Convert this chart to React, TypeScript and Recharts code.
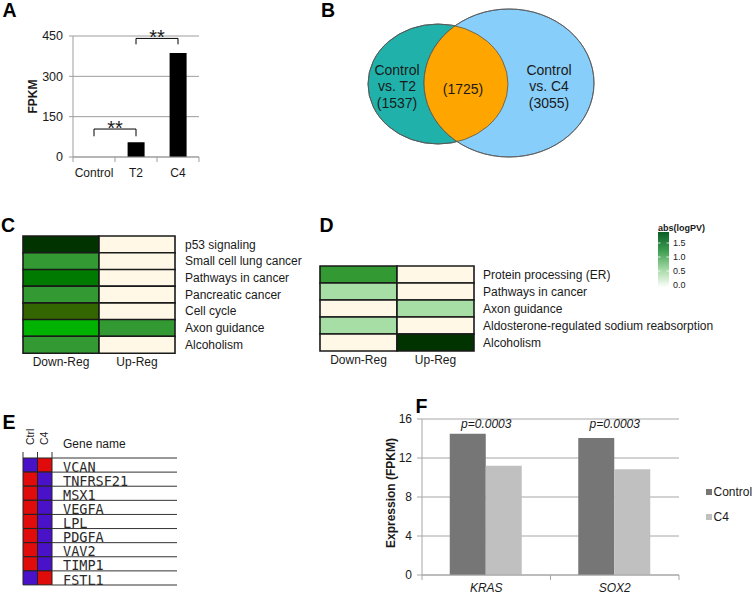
import React from 'react';
import {
  BarChart,
  Bar,
  XAxis,
  YAxis,
  CartesianGrid,
  Cell,
  ReferenceLine,
  ReferenceDot,
  ScatterChart,
  Scatter,
  Legend,
} from 'recharts';

const FONT = '"Liberation Sans", Arial, Helvetica, sans-serif';
const MONO = '"DejaVu Sans Mono", "Liberation Mono", monospace';
const INK = '#1a1a1a';
const GRAY = '#9d9d9d';

// ---------------- Panel A : FPKM bar chart ----------------
const aSamples = ['Control', 'T2', 'C4'];
const aFpkm = [0, 55, 387];
const aTicks = [0, 150, 300, 450];
const aSigFrom = ['Control', 'T2'];
const aSigTo = ['T2', 'C4'];
const aSigHigh = [104, 441];
const aSigLow = [77, 419];
const aSigText = ['**', '**'];

// ---------------- Panel B : Venn diagram ----------------
const vennSets = ['Control vs. T2', 'Control vs. C4'];
const vennUnique = [1537, 3055];
const vennShared = 1725;

// ---------------- Panel C : KEGG heatmap ----------------
const cPathways = [
  'p53 signaling',
  'Small cell lung cancer',
  'Pathways in cancer',
  'Pancreatic cancer',
  'Cell cycle',
  'Axon guidance',
  'Alcoholism',
];
const cDown = ['g5', 'g3', 'g4', 'g3', 'olive', 'bright', 'g3'];
const cUp = ['none', 'none', 'none', 'none', 'none', 'g3', 'none'];

// ---------------- Panel D : KEGG heatmap ----------------
const dPathways = [
  'Protein processing (ER)',
  'Pathways in cancer',
  'Axon guidance',
  'Aldosterone-regulated sodium reabsorption',
  'Alcoholism',
];
const dDown = ['g3', 'g1', 'none', 'g1', 'none'];
const dUp = ['none', 'none', 'g1', 'none', 'g5'];
const regColumns = ['Down-Reg', 'Up-Reg'];
const legendTitle = 'abs(logPV)';
const legendTicks = [0, 0.5, 1.0, 1.5];

// ---------------- Panel E : gene heatmap ----------------
const eSamples = ['Ctrl', 'C4'];
const eGenes = ['VCAN', 'TNFRSF21', 'MSX1', 'VEGFA', 'LPL', 'PDGFA', 'VAV2', 'TIMP1', 'FSTL1'];
const eCtrl = ['low', 'high', 'high', 'high', 'high', 'high', 'high', 'high', 'low'];
const eC4 = ['high', 'low', 'low', 'low', 'low', 'low', 'low', 'low', 'high'];
const eHeader = 'Gene name';

// ---------------- Panel F : expression bars ----------------
const fGenes = ['KRAS', 'SOX2'];
const fSeries = ['Control', 'C4'];
const fControl = [14.5, 14.05];
const fC4 = [11.2, 10.85];
const fPValues = ['p=0.0003', 'p=0.0003'];
const fTicks = [0, 4, 8, 12, 16];

// ---------------- styles ----------------
const heatPalette: Record<string, string> = {
  none: '#FFF8E7',
  g1: '#A6DEA6',
  g3: '#339933',
  g4: '#007A00',
  g5: '#003300',
  olive: '#336600',
  bright: '#00B300',
};
const expPalette: Record<string, string> = { high: '#E00B0B', low: '#4A12C8' };

// ---------------- tables ----------------
const aData = aSamples.map((sample, i) => ({ sample, fpkm: aFpkm[i] }));
const cData = cPathways.map((name, i) => ({ name, down: 1, up: 1, dKey: cDown[i], uKey: cUp[i] }));
const dData = dPathways.map((name, i) => ({ name, down: 1, up: 1, dKey: dDown[i], uKey: dUp[i] }));
const eData = eGenes.map((gene, i) => ({ gene, ctrl: 1, c4: 1, cKey: eCtrl[i], kKey: eC4[i] }));
const fData = fGenes.map((gene, i) => ({ gene, control: fControl[i], c4: fC4[i] }));

// ---------------- helpers ----------------
function BandTick(props: any) {
  const { x, y, payload, index, gap, total, italic, fontSize, stroke, fallbackHalf } = props;
  const half = (payload && payload.offset) || fallbackHalf;
  const axisY = y - gap;
  return (
    <g>
      <line x1={x - half} x2={x - half} y1={axisY} y2={axisY + 5} stroke={stroke} />
      {index === total - 1 ? (
        <line x1={x + half} x2={x + half} y1={axisY} y2={axisY + 5} stroke={stroke} />
      ) : null}
      <text
        x={x}
        y={y}
        dy="0.71em"
        textAnchor="middle"
        fontFamily={FONT}
        fontSize={fontSize}
        fontStyle={italic ? 'italic' : 'normal'}
        fill={INK}
      >
        {payload.value}
      </text>
    </g>
  );
}

function rotLabel(text: string, x: number, dy: number, size: number) {
  return (p: any) => {
    const vb = p.viewBox || { y: 0, height: 0 };
    const cy = vb.y + vb.height / 2 + dy;
    return (
      <text
        x={x}
        y={cy}
        transform={`rotate(-90 ${x} ${cy})`}
        textAnchor="middle"
        fontFamily={FONT}
        fontWeight="bold"
        fontSize={size}
        fill={INK}
      >
        {text}
      </text>
    );
  };
}

function starLabel(text: string) {
  return (p: any) => {
    const vb = p.viewBox;
    return (
      <text x={vb.x + vb.width / 2} y={vb.y + 6} textAnchor="middle" fontFamily={FONT} fontSize={20} fill={INK}>
        {text}
      </text>
    );
  };
}

function Letter({ ch, x, y }: { ch: string; x: number; y: number }) {
  return (
    <div
      style={{
        position: 'absolute',
        left: x,
        top: y,
        fontFamily: FONT,
        fontWeight: 'bold',
        fontSize: 19.5,
        lineHeight: '19.5px',
        color: '#000',
      }}
    >
      {ch}
    </div>
  );
}

// ---------------- Panel A ----------------
function PanelA() {
  return (
    <BarChart width={210} height={185} data={aData} margin={{ top: 36, right: 11, bottom: 0, left: 0 }} barCategoryGap="30%">
      <CartesianGrid vertical={false} stroke={GRAY} />
      <XAxis
        dataKey="sample"
        height={28}
        tickSize={0}
        tickMargin={11}
        tickLine={false}
        axisLine={{ stroke: GRAY }}
        interval={0}
        tick={(p: any) => <BandTick {...p} gap={11} total={aSamples.length} fallbackHalf={21} fontSize={12} stroke={GRAY} />}
      />
      <YAxis
        domain={[0, 450]}
        ticks={aTicks}
        interval={0}
        width={73}
        tickSize={4}
        tickMargin={6}
        axisLine={{ stroke: GRAY }}
        tickLine={{ stroke: GRAY }}
        tick={{ fontSize: 12.5, fill: INK, fontFamily: FONT }}
        label={rotLabel('FPKM', 37, 0, 12)}
      />
      <Bar dataKey="fpkm" fill="#000" isAnimationActive={false} />
      {aSigFrom.map((from, i) => {
        const to = aSigTo[i];
        const hi = aSigHigh[i];
        const lo = aSigLow[i];
        return [
          <ReferenceLine key={`l${i}`} segment={[{ x: from, y: lo }, { x: from, y: hi }]} stroke="#000" />,
          <ReferenceLine
            key={`h${i}`}
            segment={[{ x: from, y: hi }, { x: to, y: hi }]}
            stroke="#000"
            label={starLabel(aSigText[i])}
          />,
          <ReferenceLine key={`r${i}`} segment={[{ x: to, y: hi }, { x: to, y: lo }]} stroke="#000" />,
        ];
      })}
    </BarChart>
  );
}

// ---------------- Panel B ----------------
const VENN = {
  left: { cx: 138, cy: 84, rx: 70, ry: 60 },
  right: { cx: 209, cy: 83, rx: 85, ry: 74 },
  labels: [
    { x: 97, y: 91.25 },
    { x: 163, y: 94 },
    { x: 249, y: 91.25 },
  ],
};
const vennSetColors = ['#20B2AA', '#87CEFA'];
const vennShareColor = '#FFA500';

const vennEllipses = [
  { x: VENN.left.cx, y: VENN.left.cy, set: 0 },
  { x: VENN.right.cx, y: VENN.right.cy, set: 1 },
];
const vennLens = [{ x: VENN.right.cx, y: VENN.right.cy }];
const splitSet = (s: string) => s.split(' vs. ').map((t, k) => (k ? 'vs. ' + t : t));
const vennText = [
  { x: VENN.labels[0].x, y: VENN.labels[0].y, lines: [...splitSet(vennSets[0]), `(${vennUnique[0]})`] },
  { x: VENN.labels[1].x, y: VENN.labels[1].y, lines: [`(${vennShared})`] },
  { x: VENN.labels[2].x, y: VENN.labels[2].y, lines: [...splitSet(vennSets[1]), `(${vennUnique[1]})`] },
];

function PanelB() {
  const geo = [VENN.left, VENN.right];
  return (
    <ScatterChart width={320} height={180} margin={{ top: 0, right: 0, bottom: 0, left: 0 }}>
      <XAxis type="number" dataKey="x" domain={[0, 320]} hide />
      <YAxis type="number" dataKey="y" domain={[0, 180]} reversed hide />
      <Scatter
        data={vennEllipses}
        isAnimationActive={false}
        shape={(p: any) => {
          const g = geo[p.payload.set];
          return <ellipse cx={p.cx} cy={p.cy} rx={g.rx} ry={g.ry} fill={vennSetColors[p.payload.set]} stroke="#555" strokeWidth={0.8} />;
        }}
      />
      <Scatter
        data={vennLens}
        isAnimationActive={false}
        shape={(p: any) => {
          const lx = p.cx + (VENN.left.cx - VENN.right.cx);
          const ly = p.cy + (VENN.left.cy - VENN.right.cy);
          return (
            <g>
              <defs>
                <clipPath id="vennClipLeft">
                  <ellipse cx={lx} cy={ly} rx={VENN.left.rx} ry={VENN.left.ry} />
                </clipPath>
              </defs>
              <ellipse cx={p.cx} cy={p.cy} rx={VENN.right.rx} ry={VENN.right.ry} fill={vennShareColor} clipPath="url(#vennClipLeft)" />
              <ellipse cx={lx} cy={ly} rx={VENN.left.rx} ry={VENN.left.ry} fill="none" stroke="#555" strokeWidth={0.8} />
              <ellipse cx={p.cx} cy={p.cy} rx={VENN.right.rx} ry={VENN.right.ry} fill="none" stroke="#555" strokeWidth={0.8} />
            </g>
          );
        }}
      />
      <Scatter
        data={vennText}
        isAnimationActive={false}
        shape={(p: any) => {
          const lines: string[] = p.payload.lines;
          const start = p.cy - ((lines.length - 1) * 16.25) / 2;
          return (
            <g>
              {lines.map((t, k) => (
                <text key={k} x={p.cx} y={start + k * 16.25} textAnchor="middle" fontFamily={FONT} fontSize={14} fill={INK}>
                  {t}
                </text>
              ))}
            </g>
          );
        }}
      />
    </ScatterChart>
  );
}

// ---------------- Heatmaps C / D ----------------
function Heatmap({ data, width, height, margin, yWidth, xHeight, labelGap, legend }: any) {
  return (
    <BarChart layout="vertical" width={width} height={height} data={data} margin={margin} barCategoryGap={0} barGap={0}>
      <XAxis
        type="number"
        domain={[0, 2]}
        ticks={[0.5, 1.5]}
        interval={0}
        height={xHeight}
        tickSize={0}
        tickMargin={4}
        axisLine={false}
        tickLine={false}
        tickFormatter={(v: number) => regColumns[Math.floor(v)]}
        tick={{ fontSize: 12, fill: INK, fontFamily: FONT }}
      />
      <YAxis
        type="category"
        dataKey="name"
        orientation="right"
        width={yWidth}
        interval={0}
        tickSize={0}
        tickMargin={labelGap}
        axisLine={false}
        tickLine={false}
        tick={{ fontSize: 12, fill: INK, fontFamily: FONT, textAnchor: 'start' }}
      />
      <Bar dataKey="down" stackId="s" isAnimationActive={false} stroke={INK} strokeWidth={1.6}>
        {data.map((d: any, i: number) => (
          <Cell key={i} fill={heatPalette[d.dKey]} />
        ))}
      </Bar>
      <Bar dataKey="up" stackId="s" isAnimationActive={false} stroke={INK} strokeWidth={1.6}>
        {data.map((d: any, i: number) => (
          <Cell key={i} fill={heatPalette[d.uKey]} />
        ))}
      </Bar>
      {legend}
    </BarChart>
  );
}

const legendY = (v: number) => 65 - v * 28;

function GradientLegend() {
  return (
    <svg width={60} height={75} style={{ overflow: 'visible' }}>
      <defs>
        <linearGradient id="logpvGrad" x1="0" y1="0" x2="0" y2="1">
          <stop offset="0%" stopColor="#0b5e27" />
          <stop offset="35%" stopColor="#3f9f52" />
          <stop offset="68%" stopColor="#a5d9a5" />
          <stop offset="100%" stopColor="#fbfefa" />
        </linearGradient>
      </defs>
      <text x={3} y={11} fontFamily={FONT} fontWeight="bold" fontSize={9} fill={INK}>
        {legendTitle}
      </text>
      <rect x={3} y={12} width={11} height={55} fill="url(#logpvGrad)" />
      {legendTicks.map((v) => (
        <g key={v}>
          <line x1={3} x2={5.5} y1={legendY(v)} y2={legendY(v)} stroke="#fff" strokeWidth={0.8} />
          <line x1={11.5} x2={14} y1={legendY(v)} y2={legendY(v)} stroke="#fff" strokeWidth={0.8} />
          <text x={18} y={legendY(v) + 3.2} fontFamily={FONT} fontSize={9} fill="#222">
            {v.toFixed(1)}
          </text>
        </g>
      ))}
    </svg>
  );
}

// ---------------- Panel E ----------------
function GeneTick(props: any) {
  const { x, y, payload, index, gap, fallbackHalf } = props;
  const half = (payload && payload.offset) || fallbackHalf;
  const x0 = x - gap;
  return (
    <g>
      {index === 0 ? <line x1={x0} x2={x0 + 125} y1={y - half} y2={y - half} stroke="#333" strokeWidth={1} /> : null}
      <line x1={x0} x2={x0 + 125} y1={y + half} y2={y + half} stroke="#333" strokeWidth={1} />
      <text x={x} y={y + half - 0.5} fontFamily={MONO} fontSize={13.5} fill="#2a2a2a">
        {payload.value}
      </text>
    </g>
  );
}

function SampleTick(props: any) {
  const { x, y, payload } = props;
  const v = payload.value;
  if (Number.isInteger(v)) {
    return <line x1={x} x2={x} y1={y - 6} y2={y} stroke="#333" strokeWidth={1} />;
  }
  const name = eSamples[Math.floor(v)];
  const bx = x + 3.7;
  const by = y - 13;
  return (
    <text x={bx} y={by} transform={`rotate(-90 ${bx} ${by})`} fontFamily={FONT} fontSize={10.5} fill={INK}>
      {name}
    </text>
  );
}

function PanelE() {
  return (
    <BarChart layout="vertical" width={240} height={195} data={eData} margin={{ top: 0, right: 0, bottom: 10, left: 23 }} barCategoryGap={0} barGap={0}>
      <XAxis
        type="number"
        orientation="top"
        domain={[0, 2]}
        ticks={[0, 0.5, 1, 1.5, 2]}
        interval={0}
        height={58}
        tickSize={0}
        tickMargin={0}
        axisLine={false}
        tickLine={false}
        tick={(p: any) => <SampleTick {...p} />}
      />
      <YAxis
        type="category"
        dataKey="gene"
        orientation="right"
        width={188}
        interval={0}
        tickSize={0}
        tickMargin={11}
        axisLine={false}
        tickLine={false}
        tick={(p: any) => <GeneTick {...p} gap={11} fallbackHalf={7.05} />}
        label={(p: any) => {
          const vb = p.viewBox;
          return (
            <text x={vb.x + 11} y={vb.y - 9.7} fontFamily={FONT} fontSize={12} fill={INK}>
              {eHeader}
            </text>
          );
        }}
      />
      <Bar dataKey="ctrl" stackId="e" isAnimationActive={false} stroke="#222" strokeWidth={1}>
        {eData.map((d, i) => (
          <Cell key={i} fill={expPalette[d.cKey]} />
        ))}
      </Bar>
      <Bar dataKey="c4" stackId="e" isAnimationActive={false} stroke="#222" strokeWidth={1}>
        {eData.map((d, i) => (
          <Cell key={i} fill={expPalette[d.kKey]} />
        ))}
      </Bar>
    </BarChart>
  );
}

// ---------------- Panel F ----------------
function FLegend(props: any) {
  const items = [...(props.payload || [])].sort(
    (a: any, b: any) => fSeries.indexOf(a.value) - fSeries.indexOf(b.value),
  );
  return (
    <svg width={48} height={44}>
      {items.map((it: any, k: number) => {
        const cy = 10 + k * 25;
        return (
          <g key={k}>
            <rect x={0} y={cy - 3} width={6} height={6} fill={it.color} />
            <text x={7.5} y={cy + 4.3} fontFamily={FONT} fontSize={12} fill={INK}>
              {it.value}
            </text>
          </g>
        );
      })}
    </svg>
  );
}

function PanelF() {
  const FG = '#a6a6a6';
  return (
    <BarChart width={384} height={195} data={fData} margin={{ top: 19, right: 75, bottom: 0, left: 0 }} barCategoryGap="21.6%" barGap={0}>
      <CartesianGrid vertical={false} stroke={FG} />
      <XAxis
        dataKey="gene"
        height={20}
        tickSize={0}
        tickMargin={8.5}
        tickLine={false}
        axisLine={{ stroke: FG }}
        interval={0}
        tick={(p: any) => <BandTick {...p} gap={8.5} total={fGenes.length} fallbackHalf={64.25} fontSize={12} italic stroke={FG} />}
      />
      <YAxis
        domain={[0, 16]}
        ticks={fTicks}
        interval={0}
        width={52}
        tickSize={5}
        tickMargin={5}
        axisLine={{ stroke: FG }}
        tickLine={{ stroke: FG }}
        tick={{ fontSize: 12, fill: INK, fontFamily: FONT }}
        label={rotLabel('Expression (FPKM)', 25, -4, 12)}
      />
      <Bar dataKey="control" name={fSeries[0]} fill="#767676" isAnimationActive={false} />
      <Bar dataKey="c4" name={fSeries[1]} fill="#c0c0c0" isAnimationActive={false} />
      {fGenes.map((g, i) => (
        <ReferenceDot
          key={g}
          x={g}
          y={16}
          r={0}
          fill="none"
          stroke="none"
          label={(p: any) => {
            const vb = p.viewBox;
            return (
              <text x={vb.x + vb.width / 2} y={vb.y + vb.height / 2 + 8.5} textAnchor="middle" fontFamily={FONT} fontStyle="italic" fontSize={12} fill={INK}>
                {fPValues[i]}
              </text>
            );
          }}
        />
      ))}
      <Legend
        layout="vertical"
        align="center"
        verticalAlign="middle"
        wrapperStyle={{ left: 336, top: 82, width: 48, height: 44 }}
        content={(p: any) => <FLegend {...p} />}
      />
    </BarChart>
  );
}

export default function App() {
  return (
    <div
      style={{
        position: 'absolute',
        left: 0,
        top: 0,
        width: 754,
        height: 595,
        background: '#fff',
        fontFamily: FONT,
        overflow: 'hidden',
      }}
    >
      <div style={{ position: 'absolute', left: 0, top: 0 }}>
        <PanelA />
      </div>
      <div style={{ position: 'absolute', left: 300, top: 0 }}>
        <PanelB />
      </div>
      <div style={{ position: 'absolute', left: 0, top: 215 }}>
        <Heatmap
          data={cData}
          width={340}
          height={160}
          margin={{ top: 21, right: 0, bottom: 0, left: 23 }}
          yWidth={165}
          xHeight={22}
          labelGap={10}
        />
      </div>
      <div style={{ position: 'absolute', left: 300, top: 215 }}>
        <Heatmap
          data={dData}
          width={454}
          height={160}
          margin={{ top: 51, right: 0, bottom: 0, left: 20 }}
          yWidth={280}
          xHeight={24}
          labelGap={9}
          legend={
            <Legend
              align="center"
              verticalAlign="middle"
              wrapperStyle={{ left: 355, top: 5, width: 60, height: 75 }}
              content={() => <GradientLegend />}
            />
          }
        />
      </div>
      <div style={{ position: 'absolute', left: 0, top: 400 }}>
        <PanelE />
      </div>
      <div style={{ position: 'absolute', left: 370, top: 400 }}>
        <PanelF />
      </div>
      <Letter ch="A" x={2.5} y={0.5} />
      <Letter ch="B" x={321} y={1} />
      <Letter ch="C" x={1} y={215.5} />
      <Letter ch="D" x={319.5} y={215.5} />
      <Letter ch="E" x={2.5} y={412.5} />
      <Letter ch="F" x={415.5} y={397} />
    </div>
  );
}
